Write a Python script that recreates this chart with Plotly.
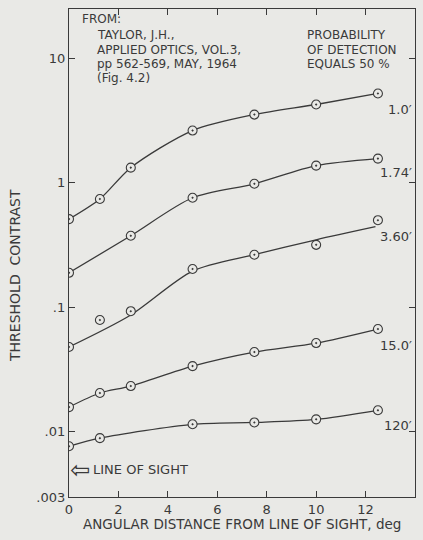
import math
import plotly.graph_objects as go

# ---- data ----
angle = [0, 1.25, 2.5, 5, 7.5, 10, 12.5]
angle_174 = [0, 2.5, 5, 7.5, 10, 12.5]
angle_120 = [0, 1.25, 5, 7.5, 10, 12.5]
angle_fit_360 = [0, 2.5, 5, 7.5, 10, 12.4]

c_1_0 = [0.51, 0.74, 1.32, 2.62, 3.52, 4.24, 5.2]
c_1_74 = [0.189, 0.375, 0.757, 0.98, 1.37, 1.56]
c_3_60 = [0.048, 0.079, 0.093, 0.203, 0.264, 0.317, 0.50]
c_3_60_fit = [0.048, 0.0867, 0.195, 0.264, 0.348, 0.443]
c_15_0 = [0.0158, 0.0205, 0.0233, 0.0337, 0.0437, 0.0516, 0.0669]
c_120 = [0.00766, 0.0089, 0.0115, 0.0119, 0.0126, 0.0149]

size_labels = ["1.0\u2032", "1.74\u2032", "3.60\u2032", "15.0\u2032", "120\u2032"]
label_y = [3.87, 1.20, 0.368, 0.0497, 0.0113]

x_ticks = [0, 2, 4, 6, 8, 10, 12, 14]
y_ticks = [0.003, 0.01, 0.1, 1, 10]
y_ticktext = [".003", ".01", ".1", "1", "10"]

INK = "#3a3a3a"
PAPER = "#e9e9e6"
FONT = "DejaVu Sans"

fig = go.Figure()

curves = [
    (angle, c_1_0, angle, c_1_0),
    (angle_174, c_1_74, angle_174, c_1_74),
    (angle, c_3_60, angle_fit_360, c_3_60_fit),
    (angle, c_15_0, angle, c_15_0),
    (angle_120, c_120, angle_120, c_120),
]

for xs, ys, fx, fy in curves:
    fig.add_trace(go.Scatter(
        x=fx, y=fy, mode="lines",
        line=dict(color=INK, width=1.3, shape="spline", smoothing=0.8),
        hoverinfo="skip", showlegend=False))
    fig.add_trace(go.Scatter(
        x=xs, y=ys, mode="markers",
        marker=dict(symbol="circle-dot", size=9, color=PAPER,
                    line=dict(color=INK, width=1.1)),
        showlegend=False))

for lab, ly in zip(size_labels, label_y):
    fig.add_annotation(x=13.95, y=math.log10(ly), xref="x", yref="y",
                       yanchor="middle", xanchor="right", text=lab,
                       showarrow=False,
                       font=dict(family=FONT, size=13, color=INK))

def note(txt, px, py, size=12):
    fig.add_annotation(x=(px - 69) / 346, y=(497 - py) / 488,
                       xref="paper", yref="paper", xanchor="left",
                       yanchor="middle", text=txt, showarrow=False,
                       font=dict(family=FONT, size=size, color=INK))

note("FROM:", 80, 19)
note("TAYLOR, J.H.,", 95, 35)
note("APPLIED OPTICS, VOL.3,", 95, 50)
note("pp 562-569, MAY, 1964", 95, 64)
note("(Fig. 4.2)", 95, 78)
note("PROBABILITY", 305, 35)
note("OF DETECTION", 305, 50)
note("EQUALS 50 %", 305, 64)
note("\u21e6", 68, 470, size=24)
note("LINE OF SIGHT", 91, 469, size=13)

fig.add_annotation(x=(242 - 69) / 346, y=(497 - 524) / 488, xref="paper",
                   yref="paper", xanchor="center", yanchor="middle",
                   text="ANGULAR DISTANCE FROM LINE OF SIGHT, deg",
                   showarrow=False, font=dict(family=FONT, size=13.5, color=INK))
fig.add_annotation(x=(15 - 69) / 346, y=(497 - 276) / 488, xref="paper",
                   yref="paper", xanchor="center", yanchor="middle",
                   textangle=-90, text="THRESHOLD  CONTRAST",
                   showarrow=False, font=dict(family=FONT, size=14, color=INK))

axis_common = dict(showgrid=False, zeroline=False, showline=True,
                   linecolor=INK, linewidth=1.3, mirror="ticks",
                   ticks="inside", ticklen=6, tickwidth=1.2, tickcolor=INK,
                   tickfont=dict(family=FONT, size=13, color=INK))

fig.update_xaxes(range=[0, 14], tickvals=x_ticks, **axis_common)
fig.update_yaxes(type="log", range=[-2.523, 1.394], tickvals=y_ticks,
                 ticktext=y_ticktext, **axis_common)

fig.update_layout(
    width=423, height=540,
    margin=dict(l=69, r=8, t=9, b=43),
    paper_bgcolor=PAPER, plot_bgcolor=PAPER,
    font=dict(family=FONT, color=INK),
)

fig.write_html(
    "out.html",
    config={"displayModeBar": False},
    post_script="document.body.style.margin='0';"
                "document.body.style.background='" + PAPER + "';",
)
